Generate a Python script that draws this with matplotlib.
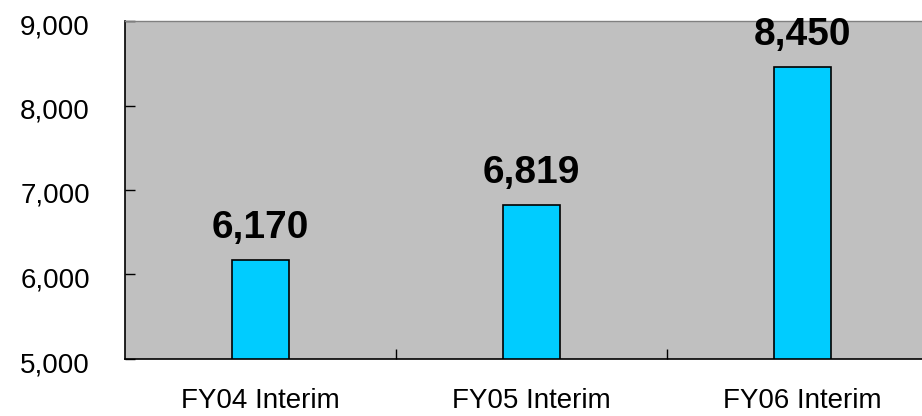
import matplotlib.pyplot as plt
from matplotlib.ticker import FuncFormatter
from matplotlib.transforms import ScaledTranslation

plt.rcParams['font.family'] = ['Liberation Sans', 'DejaVu Sans']

# interim figures per fiscal year
periods = ["FY04 Interim", "FY05 Interim", "FY06 Interim"]
values = [6170, 6819, 8450]
y_ticks = [5000, 6000, 7000, 8000, 9000]

fig = plt.figure(figsize=(9.22, 4.16), dpi=100)
ax = fig.add_axes([124.5 / 922, 57 / 416, (938 - 124.5) / 922, 338 / 416])
ax.set_facecolor('#C0C0C0')

x = list(range(len(periods)))
ax.bar(x, [v - 5000 for v in values], bottom=5000, width=0.21,
       color='#00CCFF', edgecolor='black', linewidth=1.2, zorder=3)

for xi, v in zip(x, values):
    ax.annotate(f"{v:,}", (xi, v), xytext=(0, 10.5), textcoords='offset points',
                ha='center', va='bottom', fontsize=28, fontweight='bold')

ax.set_xlim(-0.5, len(periods) - 0.5)
ax.set_ylim(5000, 9000)
ax.set_yticks(y_ticks)
ax.yaxis.set_major_formatter(FuncFormatter(lambda v, p: f"{int(v):,}"))
ax.tick_params(axis='y', direction='in', length=7.5, width=1, labelsize=20, pad=25)

# nudge y labels a little below their ticks
shift = ScaledTranslation(0, -3 / 100, fig.dpi_scale_trans)
for lbl in ax.get_yticklabels():
    lbl.set_transform(lbl.get_transform() + shift)

# category ticks sit between the bars, labels sit under the bars
ax.set_xticks([0.5, 1.5, 2.5])
ax.set_xticklabels([])
ax.set_xticks(x, minor=True)
ax.set_xticklabels(periods, minor=True)
ax.tick_params(axis='x', which='major', direction='in', length=7.5, width=1)
ax.tick_params(axis='x', which='minor', length=0, labelsize=20, pad=21)

ax.spines['left'].set_linewidth(1.2)
ax.spines['bottom'].set_linewidth(1.2)
ax.spines['top'].set_color('#808080')
ax.spines['top'].set_linewidth(1)
ax.spines['right'].set_visible(False)

fig.savefig('out.png', dpi=100)
